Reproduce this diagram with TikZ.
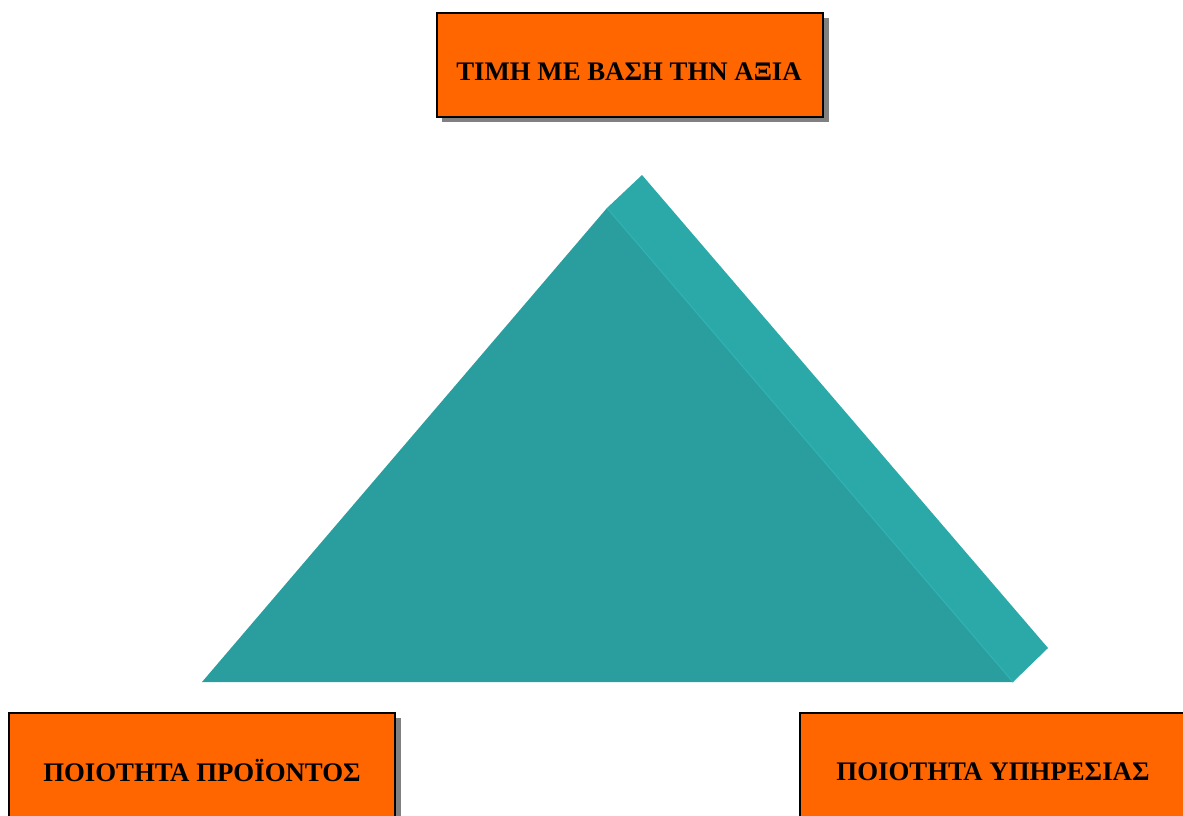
\documentclass[tikz,border=0pt]{standalone}
\usepackage{fontspec}
\setmainfont{Liberation Serif}
\definecolor{boxorange}{HTML}{FF6600}
\definecolor{shadowgray}{HTML}{808080}
\definecolor{frontteal}{HTML}{2A9E9E}
\definecolor{sideteal}{HTML}{2BA8A8}
\definecolor{edgeteal}{HTML}{30B2B2}
\tikzset{
  box/.style={draw=black, line width=1.5pt, fill=boxorange, rectangle, inner sep=0pt},
  lbl/.style={font=\bfseries\fontsize{26.8}{30}\selectfont, inner sep=0pt, text=black},
}
\begin{document}
\begin{tikzpicture}[x=1pt,y=-1pt]
\useasboundingbox (0,0) rectangle (1183,815);
\clip (0,0) rectangle (1183,815);
% triangle
\coordinate (apex) at (607,208);
\coordinate (bl) at (202,682);
\coordinate (br) at (1013,682);
\coordinate (apexb) at (642,175);
\coordinate (brb) at (1048,648);
\fill[sideteal] (apex) -- (apexb) -- (brb) -- (br) -- cycle;
\fill[frontteal] (apex) -- (bl) -- (br) -- cycle;
\draw[edgeteal, line width=1.2pt] (apex) -- (br);
% top box
\fill[shadowgray] (442,18) rectangle (829,122);
\node[box, minimum width=386pt, minimum height=104pt] (topbox) at (630,65) {};
\node[lbl] (toplabel) at (629,72) {ΤΙΜΗ ΜΕ ΒΑΣΗ ΤΗΝ ΑΞΙΑ};
% bottom-left box
\fill[shadowgray] (14,718) rectangle (401,840);
\node[box, minimum width=386pt, minimum height=124pt] (leftbox) at (202,775) {};
\node[lbl] (leftlabel) at (202,770) {ΠΟΙΟΤΗΤΑ ΠΡΟΪΟΝΤΟΣ};
% bottom-right box
\fill[shadowgray] (805,718) rectangle (1200,840);
\node[box, minimum width=386pt, minimum height=124pt] (rightbox) at (993,775) {};
\node[lbl] (rightlabel) at (993,772) {ΠΟΙΟΤΗΤΑ ΥΠΗΡΕΣΙΑΣ};
\end{tikzpicture}
\end{document}
